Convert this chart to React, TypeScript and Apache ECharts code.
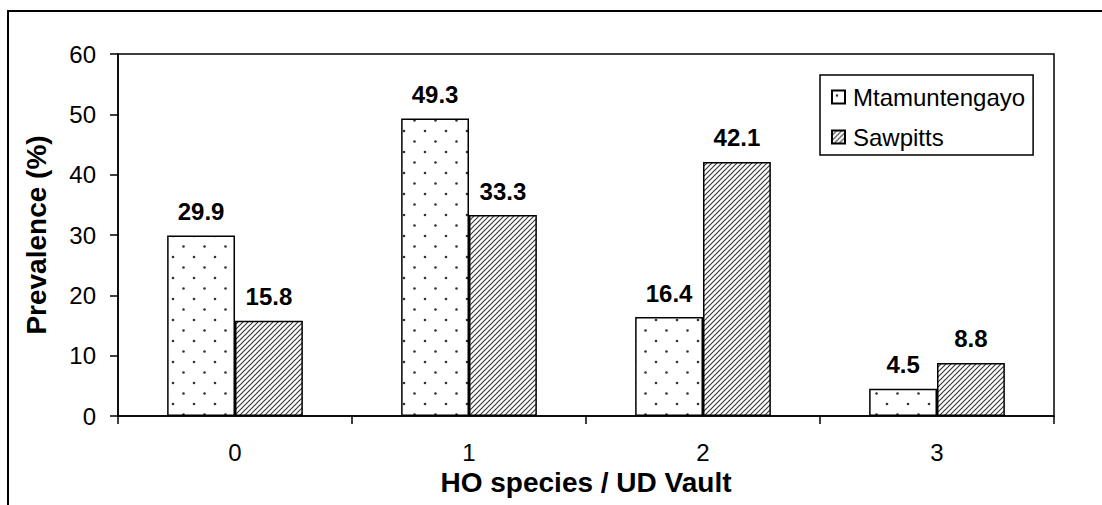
import React, { useEffect, useRef } from "react";
import * as echarts from "echarts";

// HO species / UD Vault prevalence by site
const categories = ["0", "1", "2", "3"];
const mtamuntengayo = [29.9, 49.3, 16.4, 4.5];
const sawpitts = [15.8, 33.3, 42.1, 8.8];
const seriesNames = ["Mtamuntengayo", "Sawpitts"];
const yMin = 0;
const yMax = 60;
const yInterval = 10;

const FONT = "'Liberation Sans', Arial, Helvetica, sans-serif";

// Staggered dot fill
function makeDotTile(): HTMLCanvasElement {
  const c = document.createElement("canvas");
  c.width = 21;
  c.height = 21;
  const ctx = c.getContext("2d")!;
  ctx.fillStyle = "#ffffff";
  ctx.fillRect(0, 0, 21, 21);
  ctx.fillStyle = "#333333";
  ctx.beginPath();
  ctx.arc(5, 5, 1.3, 0, Math.PI * 2);
  ctx.fill();
  ctx.beginPath();
  ctx.arc(15.5, 15.5, 1.3, 0, Math.PI * 2);
  ctx.fill();
  return c;
}

// Diagonal "///" hatch fill
function makeHatchTile(): HTMLCanvasElement {
  const s = 5;
  const c = document.createElement("canvas");
  c.width = s;
  c.height = s;
  const ctx = c.getContext("2d")!;
  ctx.fillStyle = "#ffffff";
  ctx.fillRect(0, 0, s, s);
  ctx.strokeStyle = "#3a3a3a";
  ctx.lineWidth = 1.2;
  ctx.beginPath();
  for (const x0 of [-s, 0, s]) {
    ctx.moveTo(x0 - 1, s + 1);
    ctx.lineTo(x0 + s + 1, -1);
  }
  ctx.stroke();
  return c;
}

export default function App() {
  const ref = useRef<HTMLDivElement>(null);

  useEffect(() => {
    document.body.style.margin = "0";
    if (!ref.current) return;
    const chart = echarts.init(ref.current, null, { renderer: "svg" });

    const dots = makeDotTile();
    const hatch = makeHatchTile();

    const barLabel = {
      show: true,
      position: "top" as const,
      distance: 12,
      fontSize: 24,
      fontWeight: "bold" as const,
      color: "#000",
      fontFamily: FONT,
    };

    chart.setOption({
      animation: false,
      backgroundColor: "#ffffff",
      textStyle: { fontFamily: FONT, color: "#000" },
      graphic: [
        {
          type: "rect",
          z: -10,
          silent: true,
          shape: { x: 8, y: 11, width: 1400, height: 800 },
          style: { fill: "none", stroke: "#000", lineWidth: 2 },
        },
      ],
      grid: {
        left: 118,
        right: 48,
        top: 54,
        bottom: 89,
        show: true,
        borderColor: "#000",
        borderWidth: 1.5,
        backgroundColor: "transparent",
      },
      legend: {
        data: seriesNames,
        orient: "vertical",
        left: 820,
        top: 75,
        icon: "rect",
        itemWidth: 13,
        itemHeight: 13,
        itemGap: 16,
        padding: [10, 8, 6, 11],
        borderColor: "#000",
        borderWidth: 1.5,
        backgroundColor: "#fff",
        textStyle: {
          fontSize: 24,
          color: "#000",
          fontFamily: FONT,
          padding: [0, 0, 0, 3],
        },
      },
      xAxis: {
        type: "category",
        data: categories,
        name: "HO species / UD Vault",
        nameLocation: "middle",
        nameGap: 50,
        nameTextStyle: {
          fontSize: 28,
          fontWeight: "bold",
          color: "#000",
          fontFamily: FONT,
        },
        axisLine: { lineStyle: { color: "#000", width: 1.5 } },
        axisTick: {
          show: true,
          length: 8,
          lineStyle: { color: "#000", width: 1.5 },
        },
        axisLabel: {
          fontSize: 24,
          color: "#000",
          margin: 24,
          fontFamily: FONT,
        },
        splitLine: { show: false },
      },
      yAxis: {
        type: "value",
        min: yMin,
        max: yMax,
        interval: yInterval,
        name: "Prevalence (%)",
        nameLocation: "middle",
        nameGap: 68,
        nameTextStyle: {
          fontSize: 28,
          fontWeight: "bold",
          color: "#000",
          fontFamily: FONT,
        },
        axisLine: { show: true, lineStyle: { color: "#000", width: 1.5 } },
        axisTick: {
          show: true,
          length: 8,
          lineStyle: { color: "#000", width: 1.5 },
        },
        axisLabel: {
          fontSize: 24,
          color: "#000",
          margin: 22,
          fontFamily: FONT,
        },
        splitLine: { show: false },
      },
      series: [
        {
          name: seriesNames[0],
          type: "bar",
          data: mtamuntengayo,
          barGap: "0%",
          barCategoryGap: "42%",
          silent: true,
          itemStyle: {
            color: { image: dots, repeat: "repeat" },
            borderColor: "#000",
            borderWidth: 1.5,
          },
          label: barLabel,
        },
        {
          name: seriesNames[1],
          type: "bar",
          data: sawpitts,
          barGap: "0%",
          barCategoryGap: "42%",
          silent: true,
          itemStyle: {
            color: { image: hatch, repeat: "repeat" },
            borderColor: "#000",
            borderWidth: 1.5,
          },
          label: barLabel,
        },
      ],
    });

    return () => {
      chart.dispose();
    };
  }, []);

  return <div ref={ref} style={{ width: 1102, height: 505 }} />;
}
